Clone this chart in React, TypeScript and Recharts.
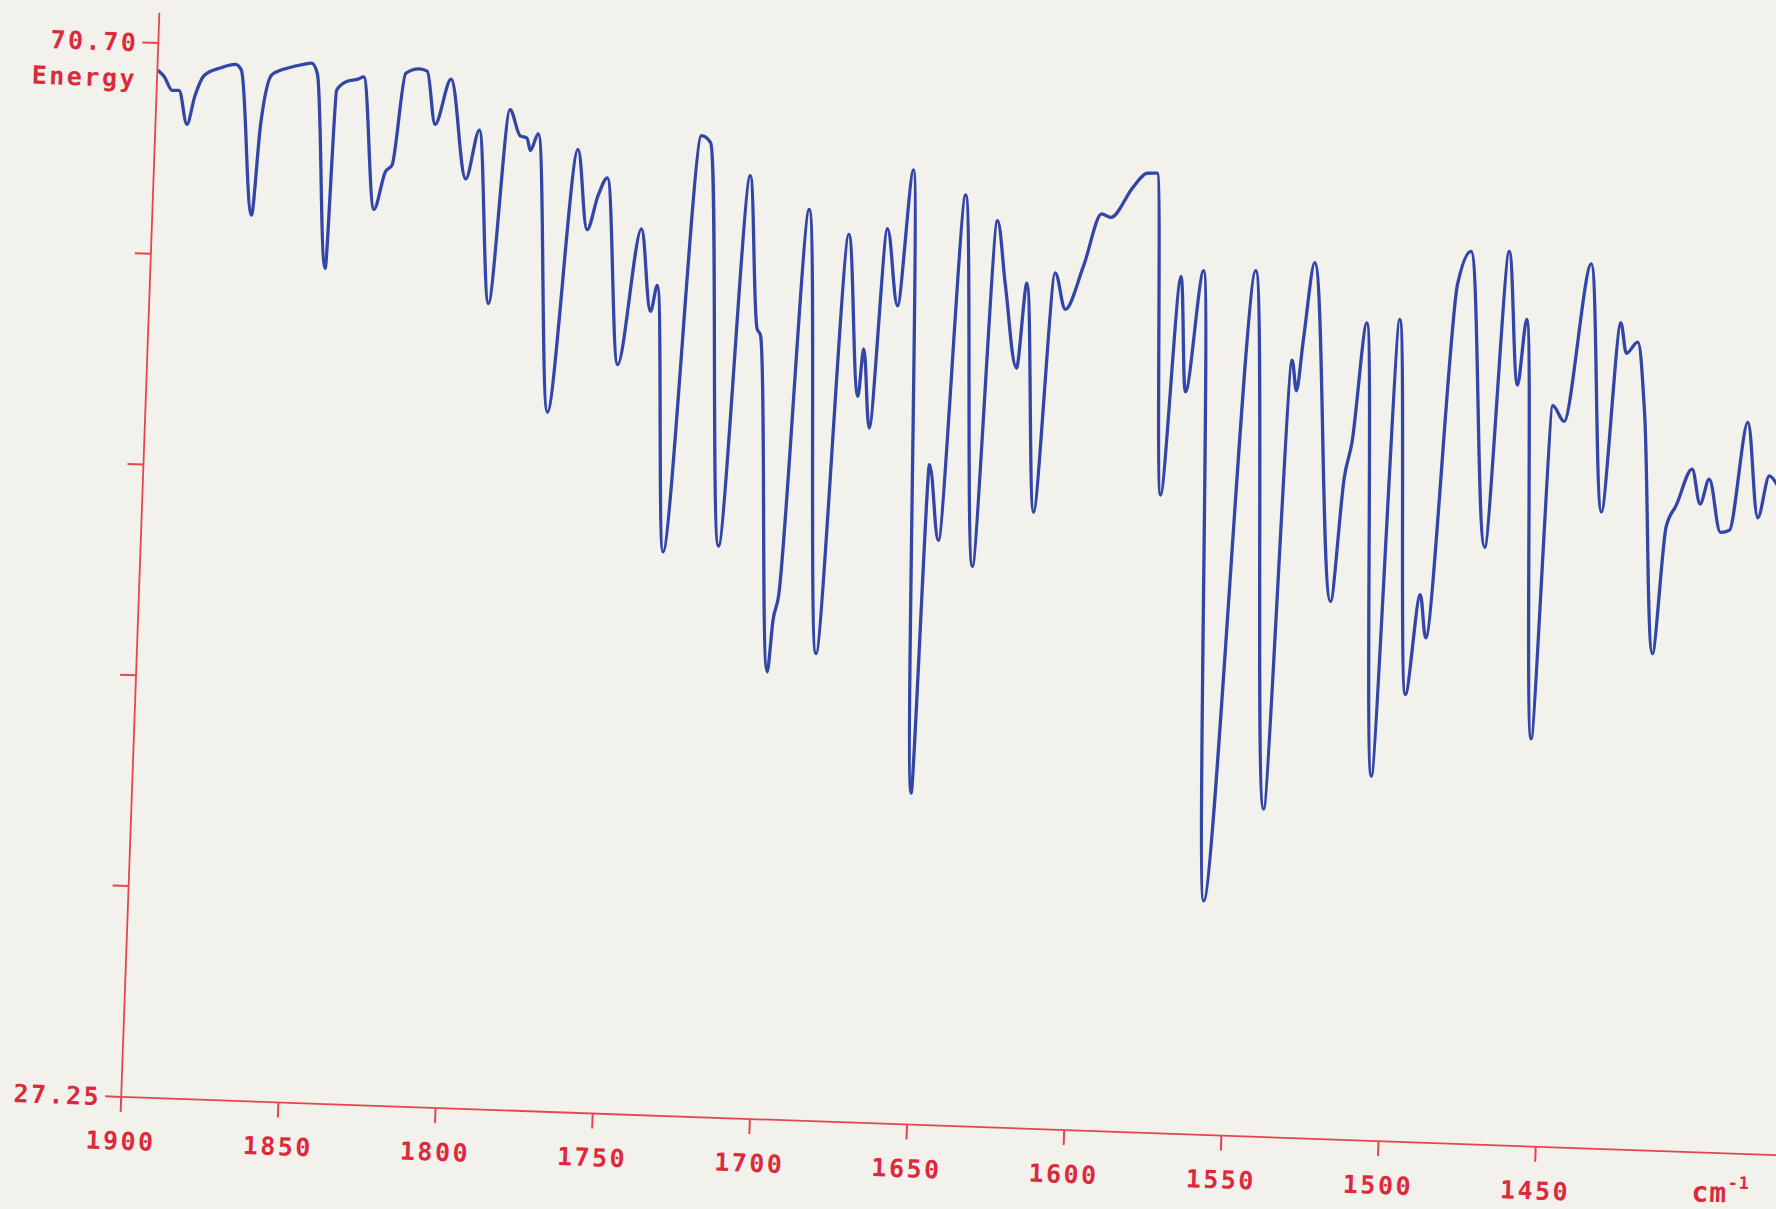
import { LineChart, Line, XAxis, YAxis, Label } from 'recharts';

// spectrum trace (cm-1 / energy)
const wavenumbers = [
  1899.8, 1897.72, 1895.05, 1892.89, 1889.99, 1887.78, 1885.13, 1879.82, 1875.18, 1873.31,
  1868.45, 1866.58, 1863.54, 1858.21, 1853.57, 1851.06, 1849.14, 1844.44, 1842.83, 1839.69,
  1836.11, 1834.34, 1829.61, 1826.43, 1824.35, 1821.05, 1816.78, 1814.24, 1811.12, 1806.58,
  1800.78, 1797.01, 1792.19, 1787.51, 1783.98, 1781.79, 1780.57, 1778.24, 1772.24, 1765.46,
  1761.68, 1758.47, 1755.78, 1750.45, 1744.41, 1740.6, 1738.73, 1733.95, 1726.36, 1723.4,
  1716.37, 1710.43, 1706.56, 1705.4, 1699.47, 1698.24, 1696.72, 1691.32, 1684.19, 1678.44,
  1673.74, 1672.47, 1669.78, 1666.26, 1662.15, 1658.63, 1652.38, 1650.29, 1646.56, 1641.79,
  1635.46, 1631.41, 1628.18, 1623.64, 1621.35, 1616.63, 1612.46, 1608.82, 1603.54, 1598.35,
  1595.44, 1588.57, 1584.4, 1581.16, 1576.48, 1572.44, 1569.71, 1565.3, 1558.26, 1548.74,
  1540.2, 1536.21, 1534.44, 1532.84, 1530.11, 1521.27, 1518.33, 1516.22, 1512.87, 1506.35,
  1502.46, 1496.46, 1492.89, 1490.61, 1484.48, 1480.53, 1472.89, 1468.43, 1464.27, 1462.12,
  1455.99, 1452.87, 1449.09, 1442.21, 1436.19, 1432.19, 1430.04, 1426.57, 1423.63, 1418.4,
  1415.5, 1412.5, 1407.87, 1404.95, 1402.35, 1398.16, 1395.29, 1390.73, 1386.43, 1383.3,
  1380.68,
];

const energy = [
  69.58, 69.32, 68.77, 68.78, 67.39, 68.57, 69.42, 69.77, 69.93, 69.71,
  63.75, 67.5, 69.56, 69.87, 70.03, 70.09, 69.68, 61.66, 69.01, 69.39,
  69.5, 69.6, 64.16, 65.72, 66.01, 69.81, 70.01, 69.93, 67.75, 69.64,
  65.55, 67.58, 60.45, 68.46, 67.4, 67.32, 66.81, 67.52, 56.06, 66.93,
  63.63, 65.09, 65.8, 58.12, 63.75, 60.36, 61.44, 50.48, 67.67, 67.4,
  50.8, 66.1, 59.81, 59.54, 45.69, 47.8, 48.83, 64.79, 46.51, 63.82,
  57.16, 59.13, 55.87, 64.11, 60.95, 66.57, 40.9, 54.46, 51.35, 65.62,
  50.33, 64.6, 61.99, 58.56, 62.07, 52.65, 62.53, 61.05, 62.85, 65.03,
  64.9, 66.19, 66.77, 66.79, 53.54, 62.57, 57.82, 62.84, 36.89, 62.92,
  40.76, 59.28, 58.03, 60.14, 63.33, 49.4, 54.5, 56.01, 60.93, 42.27,
  61.12, 45.68, 49.81, 48.04, 62.65, 64.02, 51.86, 64.08, 58.58, 61.3,
  44.04, 57.79, 57.16, 63.68, 53.48, 61.3, 60.05, 60.53, 57.65, 47.72,
  52.96, 53.87, 55.38, 53.95, 54.99, 52.81, 52.92, 57.38, 53.47, 55.21,
  54.85,
];

const xTicks = [1900, 1850, 1800, 1750, 1700, 1650, 1600, 1550, 1500, 1450];
const yTicks = [27.25, 35.94, 44.63, 53.32, 62.01, 70.7];
const labelledY = [27.25, 70.7];
const yTitle = 'Energy';

const RED = '#dc2a3c';
const AXIS_RED = '#e4464e';
const PEN_BLUE = '#3345a6';
const PAPER = '#f3f1ec';
const FONT = '"DejaVu Sans Mono", "Liberation Mono", monospace';

const data = wavenumbers.map((wn, i) => ({ wn, energy: energy[i] }));

const textStyle = {
  fill: RED,
  fontFamily: FONT,
  fontSize: 25,
  fontWeight: 700,
  letterSpacing: 2.5,
};

function YTick({ x, y, payload }: any) {
  const v = payload.value;
  if (!labelledY.includes(v)) return <g />;
  return (
    <g>
      <text x={x} y={y} dy="0.36em" textAnchor="end" style={textStyle}>
        {v.toFixed(2)}
      </text>
      {v === 70.7 && (
        <text x={x} y={y + 36} dy="0.36em" textAnchor="end" style={textStyle}>
          {yTitle}
        </text>
      )}
    </g>
  );
}

function XTick({ x, y, payload }: any) {
  return (
    <text x={x + 1} y={y} dy="0.71em" textAnchor="middle" style={textStyle}>
      {payload.value}
    </text>
  );
}

function UnitLabel({ viewBox }: any) {
  const { x, y, width } = viewBox;
  return (
    <text x={x + width - 88} y={y + 49} style={{ ...textStyle, fontSize: 28, letterSpacing: 1 }}>
      cm
      <tspan dy={-14} fontSize={17}>
        -1
      </tspan>
    </text>
  );
}

export default function App() {
  return (
    <div
      style={{
        position: 'absolute',
        left: 0,
        top: 0,
        width: 1776,
        height: 1209,
        background: PAPER,
        overflow: 'hidden',
      }}
    >
      {/* the scan is turned about 2 degrees, so the plot is too */}
      <div
        style={{
          position: 'absolute',
          left: -30,
          top: 0,
          transform: 'rotate(2.016deg)',
          transformOrigin: '151.2px 1096.9px',
        }}
      >
        <LineChart
          width={1830}
          height={1200}
          data={data}
          margin={{ top: 12, right: 18.1, bottom: 23.1, left: 41.2 }}
        >
          <XAxis
            dataKey="wn"
            type="number"
            domain={[1372, 1900]}
            reversed
            ticks={xTicks}
            interval={0}
            height={80}
            tickSize={15}
            tickMargin={20}
            axisLine={{ stroke: AXIS_RED, strokeWidth: 1.8 }}
            tickLine={{ stroke: AXIS_RED, strokeWidth: 2 }}
            tick={XTick}
          >
            <Label content={UnitLabel} />
          </XAxis>
          <YAxis
            type="number"
            domain={[27.25, 71.95]}
            ticks={yTicks}
            interval={0}
            width={110}
            tickSize={16}
            tickMargin={4}
            axisLine={{ stroke: AXIS_RED, strokeWidth: 1.8 }}
            tickLine={{ stroke: AXIS_RED, strokeWidth: 2 }}
            tick={YTick}
          />
          <Line
            type="monotone"
            dataKey="energy"
            stroke={PEN_BLUE}
            strokeWidth={3.3}
            strokeLinejoin="round"
            dot={false}
            activeDot={false}
            isAnimationActive={false}
          />
        </LineChart>
      </div>
    </div>
  );
}
